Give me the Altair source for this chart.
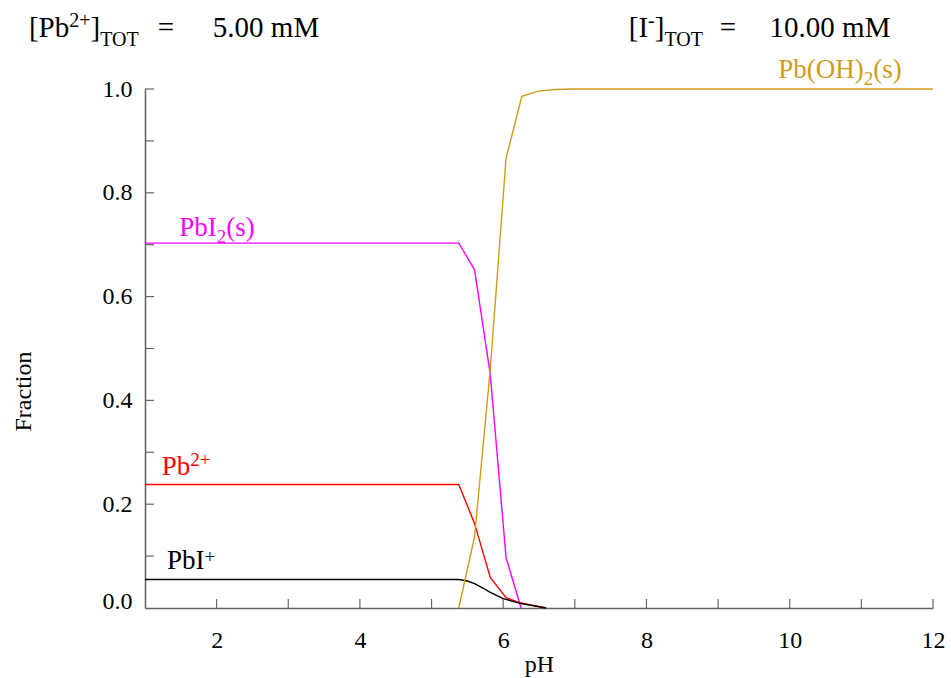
import altair as alt
import pandas as pd

# ---------------- data ----------------
ph_pbi2 = [1.0, 5.38, 5.60, 5.82, 6.04, 6.25]
fr_pbi2 = [0.703, 0.703, 0.652, 0.450, 0.097, 0.0]

ph_pb = [1.0, 5.38, 5.60, 5.82, 6.04, 6.23, 6.60]
fr_pb = [0.238, 0.238, 0.163, 0.059, 0.020, 0.010, 0.0]

ph_pbi = [1.0, 5.38, 5.50, 5.60, 5.71, 5.82, 6.00, 6.25, 6.60]
fr_pbi = [0.055, 0.055, 0.052, 0.047, 0.039, 0.030, 0.018, 0.0085, 0.0]

ph_pboh = [5.38, 5.60, 5.82, 6.04, 6.26, 6.49, 6.73, 7.00, 12.0]
fr_pboh = [0.0, 0.137, 0.460, 0.866, 0.986, 0.996, 0.999, 1.0, 1.0]

series_names = ["PbI2(s)", "Pb2+", "PbI+", "Pb(OH)2(s)"]
series_colors = ["#FF00FF", "#FF0000", "#000000", "#D19B17"]

x_ticks = [2, 3, 4, 5, 6, 7, 8, 9, 10, 11, 12]
x_labels = [2, 4, 6, 8, 10, 12]
y_ticks = [0.1, 0.2, 0.3, 0.4, 0.5, 0.6, 0.7, 0.8, 0.9, 1.0]
y_labels = [0.0, 0.2, 0.4, 0.6, 0.8, 1.0]

# ---------------- layout ----------------
FONT = "Liberation Serif"
LEFT, TOP, RIGHT, BOTTOM = 145, 89, 18, 70
W = 951 - LEFT - RIGHT
H = 678 - TOP - BOTTOM
AX = "#666666"

rows = []
for name, xs, ys in zip(series_names,
                        [ph_pbi2, ph_pb, ph_pbi, ph_pboh],
                        [fr_pbi2, fr_pb, fr_pbi, fr_pboh]):
    for i, (a, b) in enumerate(zip(xs, ys)):
        rows.append({"pH": a, "frac": b, "species": name, "i": i})
df = pd.DataFrame(rows)

xscale = alt.Scale(domain=[1, 12], nice=False, zero=False)
yscale = alt.Scale(domain=[0, 1], nice=False)

x_axis = alt.Axis(
    values=x_labels, format="d", ticks=False, tickSize=0, grid=False,
    domainColor=AX, domainWidth=1.6, labelFont=FONT, labelFontSize=24,
    labelColor="black", labelPadding=20, labelFlush=False,
    title="pH", titleFont=FONT, titleFontSize=24, titleFontWeight="normal",
    titleColor="black", titleY=63, titleBaseline="alphabetic")
y_axis = alt.Axis(
    values=y_labels, format=".1f", ticks=False, tickSize=0, grid=False,
    domainColor=AX, domainWidth=1.6, labelFont=FONT, labelFontSize=24,
    labelColor="black", labelPadding=13,
    labelBaseline={"condition": {"test": "datum.value == 0", "value": "alphabetic"},
                   "value": "middle"},
    title="Fraction", titleFont=FONT, titleFontSize=24, titleFontWeight="normal",
    titleColor="black", titleAngle=270, titleX=-115, titleY=302,
    titleAlign="center", titleBaseline="alphabetic")

X = alt.X("pH:Q", scale=xscale, axis=x_axis)
Y = alt.Y("frac:Q", scale=yscale, axis=y_axis)

lines = alt.Chart(df).mark_line(strokeWidth=1.4).encode(
    x=X, y=Y,
    color=alt.Color("species:N", scale=alt.Scale(domain=series_names, range=series_colors),
                    legend=None),
    order="i:Q",
)

xt = alt.Chart(pd.DataFrame({"pH": x_ticks})).mark_rule(color=AX, strokeWidth=1.2).encode(
    x=X, y=alt.value(H), y2=alt.value(H - 9))
yt = alt.Chart(pd.DataFrame({"frac": y_ticks})).mark_rule(color=AX, strokeWidth=1.2).encode(
    y=Y, x=alt.value(0), x2=alt.value(9))

# ---------------- rich text helper ----------------
ADV = {"[": .333, "]": .333, "P": .556, "b": .5, "I": .333, "(": .333, ")": .333,
       "s": .389, "O": .722, "H": .722, "T": .611, " ": .25, "=": .564, ".": .25,
       "m": .778, "M": .889, "+": .564, "-": .333}


def tw(s, size):
    return sum(ADV.get(c, 0.5) for c in s) * size


def rich(pieces, cx, base, color, main, small, sup=9, sub=8, align="center"):
    sizes = [main if k == "n" else small for _, k in pieces]
    total = sum(tw(t, s) for (t, _), s in zip(pieces, sizes))
    x = cx - total / 2 if align == "center" else cx
    out = []
    for (t, k), s in zip(pieces, sizes):
        dy = 0 if k == "n" else (-sup if k == "sup" else sub)
        out.append(
            alt.Chart(pd.DataFrame({"label": [t]})).mark_text(
                align="left", baseline="alphabetic", font=FONT, fontSize=s, color=color
            ).encode(x=alt.value(x - LEFT), y=alt.value(base + dy - TOP), text="label:N")
        )
        x += tw(t, s)
    return out


texts = []
# header
texts += rich([("[Pb", "n"), ("2+", "sup"), ("]", "n"), ("TOT", "sub")], 84, 37, "black", 29, 20, sup=10, sub=9)
texts += rich([("=", "n")], 166, 37, "black", 29, 20)
texts += rich([("5.00 mM", "n")], 266, 37, "black", 29, 20)
texts += rich([("[I", "n"), ("-", "sup"), ("]", "n"), ("TOT", "sub")], 666, 37, "black", 29, 20, sup=10, sub=9)
texts += rich([("=", "n")], 728, 37, "black", 29, 20)
texts += rich([("10.00 mM", "n")], 830, 37, "black", 29, 20)
# curve labels
texts += rich([("PbI", "n"), ("2", "sub"), ("(s)", "n")], 217, 236, series_colors[0], 27, 19, sub=7)
texts += rich([("Pb", "n"), ("2+", "sup")], 186, 475, series_colors[1], 27, 19, sup=9)
texts += rich([("PbI", "n"), ("+", "sup")], 191, 569, series_colors[2], 27, 19, sup=6)
texts += rich([("Pb(OH)", "n"), ("2", "sub"), ("(s)", "n")], 840, 78, series_colors[3], 27, 19, sub=7)

chart = alt.layer(lines, xt, yt, *texts).properties(
    width=W, height=H,
    autosize=alt.AutoSizeParams(type="none"),
    padding={"left": LEFT, "top": TOP, "right": RIGHT, "bottom": BOTTOM},
    background="white",
).configure(
    font=FONT
).configure_axis(
    labelFont=FONT, titleFont=FONT
).configure_view(stroke=None)

chart.save("out.html", embed_options={"renderer": "svg", "actions": False})
